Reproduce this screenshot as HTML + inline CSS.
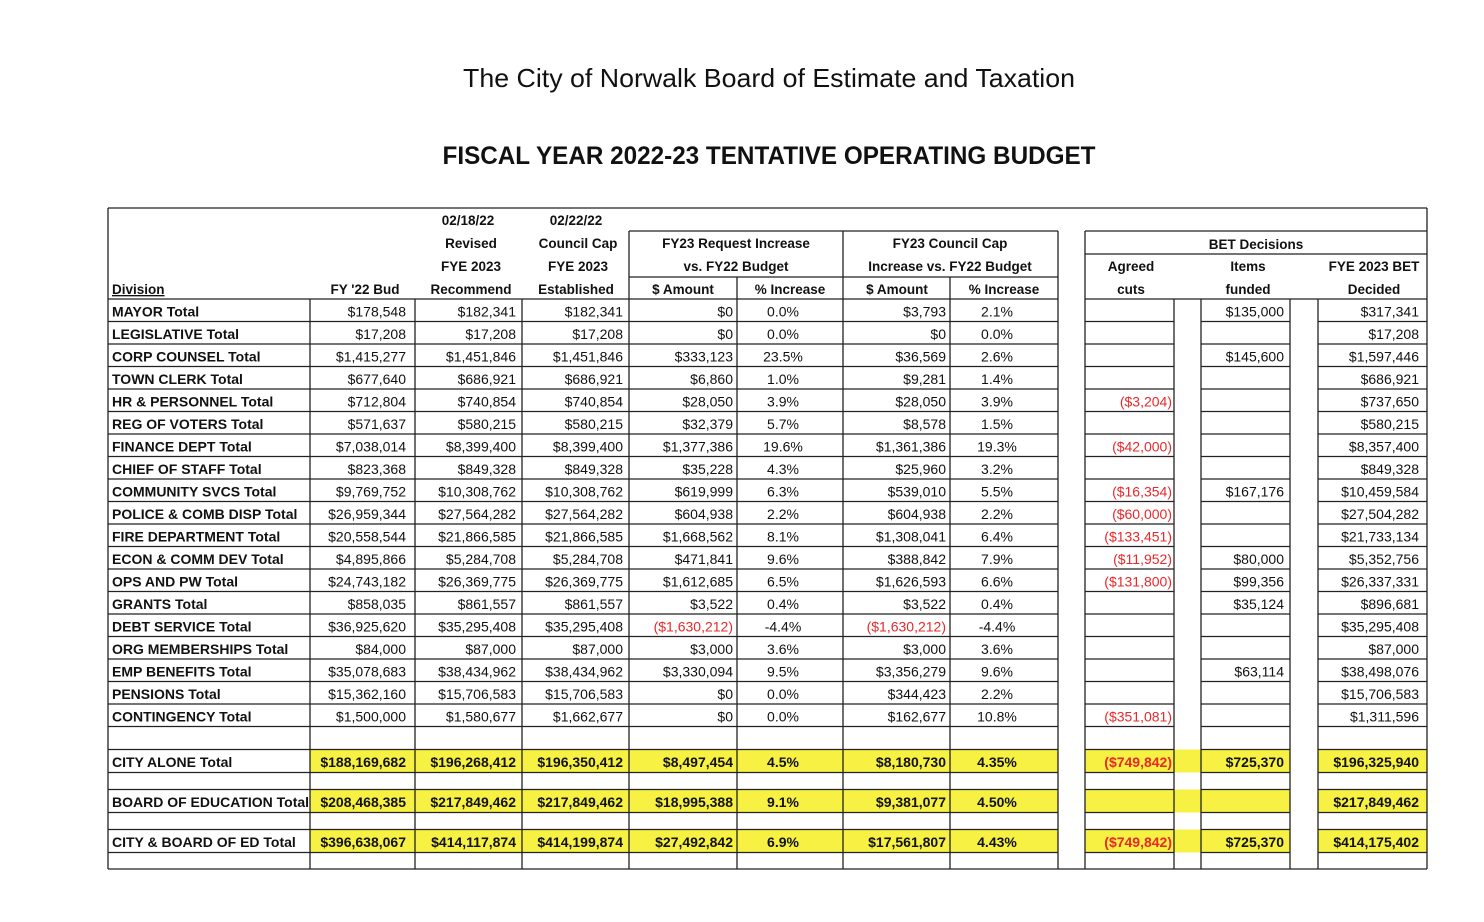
<!DOCTYPE html>
<html><head><meta charset="utf-8">
<style>
html,body{margin:0;padding:0;background:#fff;}
svg{display:block;}
svg text{font-family:"Liberation Sans",Arial,sans-serif;}
</style></head>
<body>
<svg id="s" width="1484" height="922" viewBox="0 0 1484 922" xmlns="http://www.w3.org/2000/svg">
<text x="769" y="87" font-size="26" fill="#111" text-anchor="middle" textLength="612" lengthAdjust="spacingAndGlyphs">The City of Norwalk Board of Estimate and Taxation</text>
<text x="769" y="164" font-size="25" fill="#111" font-weight="bold" text-anchor="middle" textLength="653" lengthAdjust="spacingAndGlyphs">FISCAL YEAR 2022-23 TENTATIVE OPERATING BUDGET</text>
<g id="g"></g>
</svg>
<script>
const NS="http://www.w3.org/2000/svg";
const g=document.getElementById('g');
function el(t,a,txt){const e=document.createElementNS(NS,t);for(const k in a)e.setAttribute(k,a[k]);if(txt!==undefined)e.textContent=txt;g.appendChild(e);return e;}
function L(x1,y1,x2,y2,w){el('line',{x1,y1,x2,y2,stroke:'#222','stroke-width':w||1.3});}
function R(x,y,w,h,f){el('rect',{x,y,width:w,height:h,fill:f});}
function T(x,y,s,o){o=o||{};el('text',{x,y,'font-size':o.fs||14,'font-weight':o.b?'bold':'normal','text-anchor':o.a||'start',fill:o.c||'#111','text-decoration':o.u?'underline':'none'},s);}
const rows=[
["MAYOR Total","$178,548","$182,341","$182,341","$0","0.0%","$3,793","2.1%","","$135,000","$317,341"],
["LEGISLATIVE Total","$17,208","$17,208","$17,208","$0","0.0%","$0","0.0%","","","$17,208"],
["CORP COUNSEL Total","$1,415,277","$1,451,846","$1,451,846","$333,123","23.5%","$36,569","2.6%","","$145,600","$1,597,446"],
["TOWN CLERK Total","$677,640","$686,921","$686,921","$6,860","1.0%","$9,281","1.4%","","","$686,921"],
["HR & PERSONNEL Total","$712,804","$740,854","$740,854","$28,050","3.9%","$28,050","3.9%","($3,204)","","$737,650"],
["REG OF VOTERS Total","$571,637","$580,215","$580,215","$32,379","5.7%","$8,578","1.5%","","","$580,215"],
["FINANCE DEPT Total","$7,038,014","$8,399,400","$8,399,400","$1,377,386","19.6%","$1,361,386","19.3%","($42,000)","","$8,357,400"],
["CHIEF OF STAFF Total","$823,368","$849,328","$849,328","$35,228","4.3%","$25,960","3.2%","","","$849,328"],
["COMMUNITY SVCS Total","$9,769,752","$10,308,762","$10,308,762","$619,999","6.3%","$539,010","5.5%","($16,354)","$167,176","$10,459,584"],
["POLICE & COMB DISP Total","$26,959,344","$27,564,282","$27,564,282","$604,938","2.2%","$604,938","2.2%","($60,000)","","$27,504,282"],
["FIRE DEPARTMENT Total","$20,558,544","$21,866,585","$21,866,585","$1,668,562","8.1%","$1,308,041","6.4%","($133,451)","","$21,733,134"],
["ECON & COMM DEV Total","$4,895,866","$5,284,708","$5,284,708","$471,841","9.6%","$388,842","7.9%","($11,952)","$80,000","$5,352,756"],
["OPS AND  PW Total","$24,743,182","$26,369,775","$26,369,775","$1,612,685","6.5%","$1,626,593","6.6%","($131,800)","$99,356","$26,337,331"],
["GRANTS Total","$858,035","$861,557","$861,557","$3,522","0.4%","$3,522","0.4%","","$35,124","$896,681"],
["DEBT SERVICE Total","$36,925,620","$35,295,408","$35,295,408","($1,630,212)","-4.4%","($1,630,212)","-4.4%","","","$35,295,408"],
["ORG MEMBERSHIPS Total","$84,000","$87,000","$87,000","$3,000","3.6%","$3,000","3.6%","","","$87,000"],
["EMP BENEFITS Total","$35,078,683","$38,434,962","$38,434,962","$3,330,094","9.5%","$3,356,279","9.6%","","$63,114","$38,498,076"],
["PENSIONS Total","$15,362,160","$15,706,583","$15,706,583","$0","0.0%","$344,423","2.2%","","","$15,706,583"],
["CONTINGENCY Total","$1,500,000","$1,580,677","$1,662,677","$0","0.0%","$162,677","10.8%","($351,081)","","$1,311,596"]];
const tot=[
[749.5,772.5,["CITY ALONE Total","$188,169,682","$196,268,412","$196,350,412","$8,497,454","4.5%","$8,180,730","4.35%","($749,842)","$725,370","$196,325,940"]],
[789.5,812.5,["BOARD OF EDUCATION Total","$208,468,385","$217,849,462","$217,849,462","$18,995,388","9.1%","$9,381,077","4.50%","","","$217,849,462"]],
[829.5,852.5,["CITY & BOARD OF ED Total","$396,638,067","$414,117,874","$414,199,874","$27,492,842","6.9%","$17,561,807","4.43%","($749,842)","$725,370","$414,175,402"]]];
const Y='#f7f144';
tot.forEach(t=>{const h=t[1]-t[0];R(310,t[0],748,h,Y);R(1085,t[0],205,h,Y);R(1318,t[0],109,h,Y);});
let ys=[];for(let i=0;i<=19;i++)ys.push(299+i*22.5);
ys=ys.concat([749.5,772.5,789.5,812.5,829.5,852.5]);
ys.forEach((y,i)=>{ if(i==0){L(108,y,1058,y);L(1085,y,1427,y);} else {L(108,y,1058,y);L(1085,y,1174,y);L(1201,y,1290,y);L(1318,y,1427,y);} });
L(108,208,1427,208);L(108,869,1427,869);L(108,208,108,869);L(1427,208,1427,869);
L(629,231,1058,231);L(1085,231,1427,231);L(1085,254,1427,254);L(629,277,1058,277);
L(629,231,629,869);L(843,231,843,869);L(1058,231,1058,869);L(1085,231,1085,869);
L(737,277,737,869);L(950,277,950,869);
[310,415,522,1174,1201,1290,1318].forEach(x=>L(x,299,x,869));
const hb={b:true,fs:13.5,a:'middle'};
T(468,225,"02/18/22",hb);T(576,225,"02/22/22",hb);
T(471,248,"Revised",hb);T(578,248,"Council Cap",hb);
T(736,248,"FY23 Request Increase",hb);T(950,248,"FY23 Council Cap",hb);T(1256,249,"BET Decisions",hb);
T(471,271,"FYE 2023",hb);T(578,271,"FYE 2023",hb);
T(736,271,"vs. FY22 Budget",hb);T(950,271,"Increase vs. FY22 Budget",hb);
T(1131,271,"Agreed",hb);T(1248,271,"Items",hb);T(1374,271,"FYE 2023 BET",hb);
T(112,294,"Division",{b:true,fs:13.5,u:true});
T(365,294,"FY '22 Bud",hb);T(471,294,"Recommend",hb);T(576,294,"Established",hb);
T(683,294,"$ Amount",hb);T(790,294,"% Increase",hb);T(897,294,"$ Amount",hb);T(1004,294,"% Increase",hb);
T(1131,294,"cuts",hb);T(1248,294,"funded",hb);T(1374,294,"Decided",hb);
function drawRow(r,cy,b){
  const y=cy+6;
  T(112,y,r[0],{b:true,fs:14});
  [[1,406],[2,516],[3,623],[4,733],[6,946],[8,1172],[9,1284],[10,1419]].forEach(([i,x])=>{
    if(!r[i])return;
    const red=r[i].charAt(0)==='(';
    T(x,y,r[i],{a:'end',b:b,c:red?'#e8282a':'#111'});
  });
  T(783,y,r[5],{a:'middle',b:b});T(997,y,r[7],{a:'middle',b:b});
}
rows.forEach((r,i)=>drawRow(r,299+i*22.5+11.25,false));
tot.forEach(t=>drawRow(t[2],(t[0]+t[1])/2,true));
</script>
</body></html>
